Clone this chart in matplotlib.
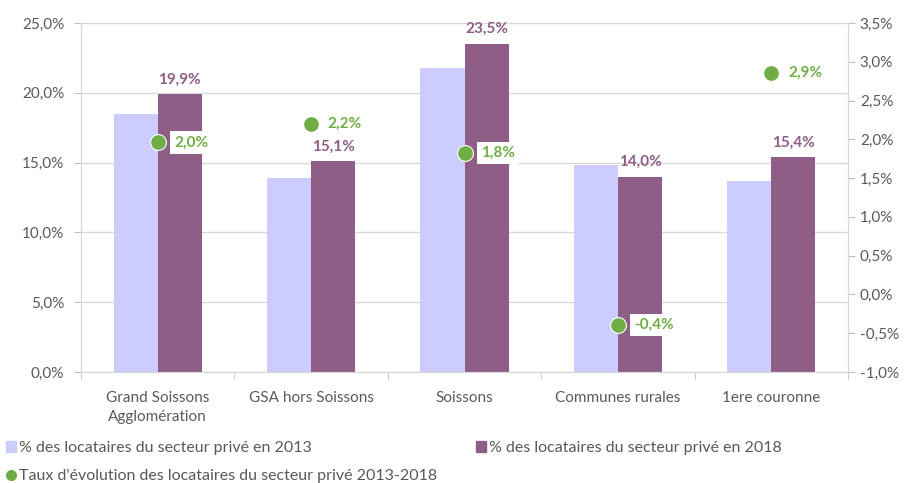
import numpy as np
import matplotlib.pyplot as plt
from matplotlib.ticker import FuncFormatter, MultipleLocator, FixedLocator
from matplotlib.lines import Line2D
from matplotlib.patches import Patch

categories = ["Grand Soissons\nAgglomération", "GSA hors Soissons", "Soissons",
              "Communes rurales", "1ere couronne"]
part_2013 = [18.5, 13.9, 21.8, 14.8, 13.7]
part_2018 = [19.9, 15.1, 23.5, 14.0, 15.4]
evolution = [1.96, 2.2, 1.82, -0.39, 2.86]

LIGHT = "#CCCCFF"
DARK = "#8E5E87"
GREEN = "#70AD47"
GREY = "#595959"
plt.rcParams["font.family"] = ["Lato", "DejaVu Sans"]


def pct(v, _=None):
    return f"{v:.1f}%".replace(".", ",")


def main():
    fig = plt.figure(figsize=(9.07, 4.83), dpi=100)
    ax = fig.add_axes([0.0893, 0.2298, 0.8457, 0.7226])
    ax2 = ax.twinx()

    x = np.arange(len(categories))
    w = 0.287
    ax.bar(x - w / 2, part_2013, w, color=LIGHT, zorder=2)
    ax.bar(x + w / 2, part_2018, w, color=DARK, zorder=2)
    for xi, v in zip(x, part_2018):
        ax.text(xi + w / 2, v + 0.55, pct(v), ha="center", va="bottom",
                color=DARK, fontsize=11, fontweight="bold")

    ax.set_xlim(-0.5, len(categories) - 0.5)
    ax.set_ylim(0, 25)
    ax.yaxis.set_major_locator(MultipleLocator(5))
    ax.yaxis.set_major_formatter(FuncFormatter(pct))
    ax.grid(axis="y", color="#D9D9D9", lw=1, zorder=0)
    ax.set_axisbelow(True)
    ax.set_xticks(x)
    ax.set_xticklabels(categories, linespacing=1.45)
    ax.xaxis.set_minor_locator(FixedLocator(np.arange(-0.5, len(categories), 1)))
    ax.tick_params(axis="x", which="major", length=0, pad=14, labelsize=11,
                   labelcolor=GREY)
    ax.tick_params(axis="x", which="minor", length=5, color="#BFBFBF")
    ax.tick_params(axis="y", length=5, pad=7, color="#BFBFBF", labelsize=11,
                   labelcolor=GREY)

    ax2.scatter(x, evolution, s=130, color=GREEN, edgecolor="white",
                linewidth=0.8, zorder=5)
    for xi, v in zip(x, evolution):
        ax2.annotate(pct(v), (xi, v), xytext=(12, 0), textcoords="offset points",
                     ha="left", va="center", color=GREEN, fontsize=11,
                     fontweight="bold", zorder=6,
                     bbox=dict(facecolor="white", edgecolor="none", pad=3))
    ax2.set_ylim(-1, 3.5)
    ax2.yaxis.set_major_locator(MultipleLocator(0.5))
    ax2.yaxis.set_major_formatter(FuncFormatter(pct))
    ax2.tick_params(axis="y", length=5, color="#BFBFBF", labelsize=11,
                    labelcolor=GREY)

    for a in (ax, ax2):
        a.spines["top"].set_visible(False)
        for s in ("left", "right", "bottom"):
            a.spines[s].set_color("#D9D9D9")

    legend_items = [
        (Patch(color=LIGHT), "% des locataires du secteur privé en 2013", (0.0, 0.072)),
        (Patch(color=DARK), "% des locataires du secteur privé en 2018", (0.518, 0.072)),
        (Line2D([], [], marker="o", ls="none", color=GREEN, markersize=7),
         "Taux d'évolution des locataires du secteur privé 2013-2018", (0.0, 0.014)),
    ]
    for handle, label, anchor in legend_items:
        fig.legend([handle], [label], loc="center left", bbox_to_anchor=anchor,
                   frameon=False, fontsize=11.5, labelcolor=GREY,
                   handlelength=0.6, handleheight=0.7, handletextpad=0.2,
                   borderpad=0, borderaxespad=0.4)

    fig.savefig("out.png", dpi=100)


if __name__ == "__main__":
    main()
